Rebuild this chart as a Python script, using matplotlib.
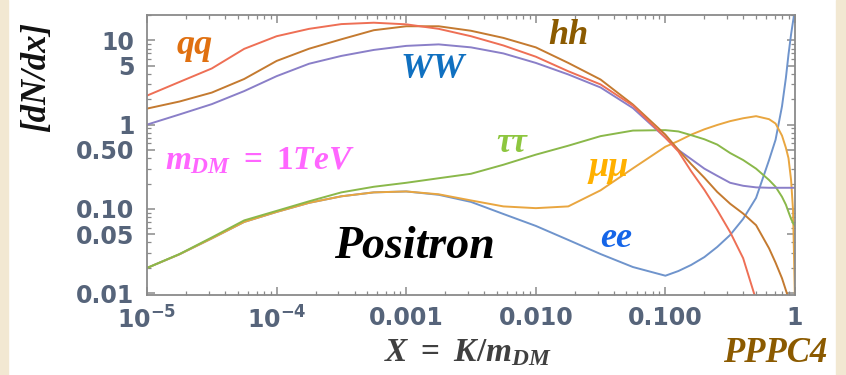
import numpy as np
import matplotlib
matplotlib.use("Agg")
import matplotlib.pyplot as plt
from matplotlib.ticker import FixedLocator, FixedFormatter, NullFormatter
from matplotlib.patches import Rectangle

# =============================================================================
# positron spectra dN/dx for m_DM = 1 TeV
x = [1e-5, 1.78e-5, 3.16e-5, 5.62e-5, 1e-4, 1.78e-4, 3.16e-4, 5.62e-4,
     1e-3, 1.78e-3, 3.16e-3, 5.62e-3, 1e-2, 1.78e-2, 3.16e-2, 5.62e-2,
     0.1, 0.126, 0.158, 0.2, 0.251, 0.316, 0.398, 0.501, 0.631, 0.708,
     0.794, 0.851, 0.891, 0.933, 0.966, 1.0]
nan = np.nan
qq = [2.21, 3.21, 4.64, 7.93, 11.2, 13.7, 15.6, 16.2, 15.5, 13.7, 11.2,
      8.7, 6.4, 4.3, 3.0, 1.68, 0.70, 0.48, 0.28, 0.168, 0.097, 0.053,
      0.026, 0.0083, nan, nan, nan, nan, nan, nan, nan, nan]
hh = [1.55, 1.88, 2.40, 3.48, 5.70, 7.96, 10.3, 13.2, 14.7, 14.7, 13.0,
      10.7, 8.26, 5.40, 3.43, 1.73, 0.76, 0.50, 0.34, 0.234, 0.159, 0.115,
      0.088, 0.064, 0.034, 0.023, 0.015, 0.0108, 0.0087, 0.006, 0.004,
      0.003]
ww = [1.0, 1.32, 1.75, 2.50, 3.76, 5.28, 6.54, 7.70, 8.6, 8.96, 8.26, 7.0,
      5.4, 3.94, 2.76, 1.57, 0.70, 0.50, 0.39, 0.30, 0.247, 0.204, 0.188,
      0.180, 0.178, 0.178, 0.178, 0.178, 0.178, 0.178, 0.178, 0.178]
tautau = [0.0199, 0.0291, 0.0458, 0.073, 0.0947, 0.123, 0.157, 0.183,
          0.204, 0.231, 0.261, 0.334, 0.44, 0.562, 0.73, 0.85, 0.86, 0.83,
          0.75, 0.67, 0.58, 0.46, 0.38, 0.30, 0.22, 0.183, 0.139, 0.112,
          0.092, 0.076, 0.068, 0.063]
mumu = [0.0199, 0.0289, 0.0446, 0.070, 0.092, 0.118, 0.141, 0.157, 0.161,
        0.149, 0.126, 0.107, 0.102, 0.107, 0.166, 0.303, 0.547, 0.64, 0.76,
        0.88, 0.99, 1.10, 1.19, 1.26, 1.16, 1.03, 0.74, 0.53, 0.40, 0.22,
        0.097, 0.008]
ee = [0.0199, 0.0289, 0.0446, 0.070, 0.092, 0.118, 0.141, 0.157, 0.161,
      0.147, 0.121, 0.087, 0.0628, 0.0428, 0.0291, 0.0204, 0.0161, 0.0183,
      0.0216, 0.0268, 0.0353, 0.049, 0.076, 0.135, 0.38, 0.66, 1.65, 3.6,
      6.8, 11.8, 16.8, 23.4]

xticks = [1e-5, 1e-4, 1e-3, 1e-2, 1e-1, 1.0]
xticklabels = [r'$\mathsf{10^{-5}}$', r'$\mathsf{10^{-4}}$', '0.001', '0.010',
               '0.100', '1']
yticks = [0.01, 0.05, 0.1, 0.5, 1, 5, 10]
yticklabels = ['0.01', '0.05', '0.10', '0.50', '1', '5', '10']
# =============================================================================
plt.rcParams['mathtext.fontset'] = 'custom'
plt.rcParams['mathtext.rm'] = 'Liberation Serif:bold'
plt.rcParams['mathtext.it'] = 'Liberation Serif:italic:bold'
plt.rcParams['mathtext.bf'] = 'Liberation Serif:bold'
plt.rcParams['mathtext.sf'] = 'DejaVu Sans:bold'

serif = 'Liberation Serif'
tick_col = '#56647a'

fig = plt.figure(figsize=(8.46, 3.75), dpi=100)
fig.patch.set_facecolor('white')
# cream slide border
fig.patches.append(Rectangle((0, 0), 0.01, 1, transform=fig.transFigure,
                             color='#f2e8d2', zorder=0))
fig.patches.append(Rectangle((0.988, 0), 0.012, 1, transform=fig.transFigure,
                             color='#f2e8d2', zorder=0))

ax = fig.add_axes([0.1738, 0.2133, 0.7659, 0.7467])
lw = 1.4
kw = dict(lw=lw, solid_joinstyle='round')
ax.plot(x, ee, color='#6f94cc', **kw)
ax.plot(x, mumu, color='#e9a640', **kw)
ax.plot(x, tautau, color='#8ab84a', **kw)
ax.plot(x, ww, color='#8a7fc8', **kw)
ax.plot(x, hh, color='#c47a30', **kw)
ax.plot(x, qq, color='#ee6f55', **kw)

ax.set_xscale('log')
ax.set_yscale('log')
ax.set_xlim(1e-5, 1)
ax.set_ylim(0.0095, 20)

minor_x = [m * 10.0**k for k in range(-5, 0) for m in range(2, 10)]
minor_y = [m * 10.0**k for k in range(-2, 2) for m in range(2, 10)
           if not (m == 5)]
ax.xaxis.set_major_locator(FixedLocator(xticks))
ax.xaxis.set_major_formatter(FixedFormatter(xticklabels))
ax.xaxis.set_minor_locator(FixedLocator(minor_x))
ax.xaxis.set_minor_formatter(NullFormatter())
ax.yaxis.set_major_locator(FixedLocator(yticks))
ax.yaxis.set_major_formatter(FixedFormatter(yticklabels))
ax.yaxis.set_minor_locator(FixedLocator(minor_y))
ax.yaxis.set_minor_formatter(NullFormatter())

for s in ax.spines.values():
    s.set_color('#8a8a8a')
    s.set_linewidth(1.3)
ax.tick_params(which='both', direction='in', top=True, right=True,
               color='#8a8a8a', labelcolor=tick_col)
ax.tick_params(which='major', length=6, width=1.1, labelsize=17)
ax.tick_params(which='minor', length=3, width=0.9)
ax.tick_params(axis='x', pad=8)
ax.tick_params(axis='y', pad=9)
for lab in ax.get_xticklabels() + ax.get_yticklabels():
    lab.set_fontweight('bold')
    lab.set_family('DejaVu Sans')

# axis titles
fig.text(37 / 846, 1 - 77 / 375, '[dN/dx]', rotation=90, ha='center',
         va='center', family=serif, style='italic', weight='bold',
         fontsize=25, color='#111111')
fig.text(468 / 846, 1 - 352 / 375, r'$X\ =\ K/m_{DM}$', ha='center',
         va='center', fontsize=24, color='#404040')
fig.text(775 / 846, 1 - 354 / 375, 'PPPC4', ha='center', va='center',
         family=serif, style='italic', weight='bold', fontsize=25,
         color='#8b5a00')

# labels inside the plot
def lab(px, py, s, col, size=26, **kw):
    fig.text(px / 846, 1 - py / 375, s, ha='center', va='center',
             family=serif, style='italic', weight='bold', fontsize=size,
             color=col, **kw)

lab(195, 45, 'qq', '#e07010')
lab(568, 36, 'hh', '#8b5a00')
lab(433, 69, 'WW', '#1070c0')
lab(512, 143, 'ττ', '#8dc63f', size=25)
lab(609, 168, 'μμ', '#ffb000')
lab(616, 238, 'ee', '#1565e8')
lab(414, 247, 'Positron', '#000000', size=33)
fig.text(260 / 846, 1 - 160 / 375, r'$m_{DM}\ =\ \mathit{1TeV}$',
         ha='center', va='center', fontsize=24, color='#ff66ff')

fig.savefig('out.png', dpi=100)
